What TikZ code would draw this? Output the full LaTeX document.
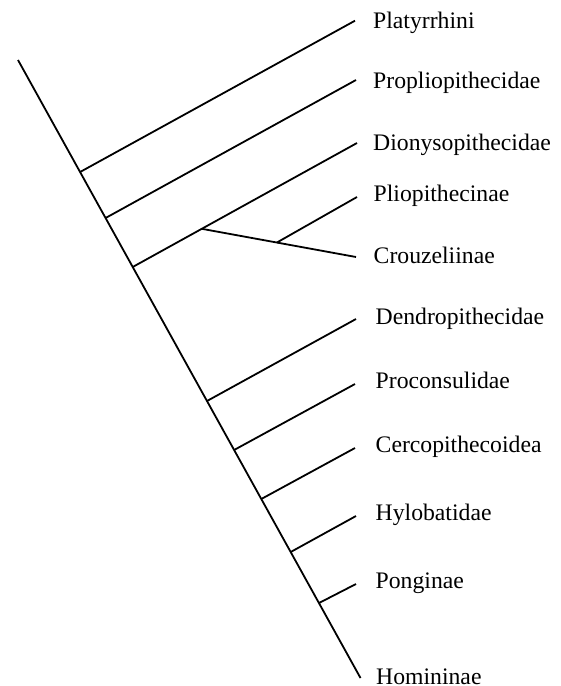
\documentclass[tikz,border=0pt]{standalone}
\usepackage{fontspec}
\setmainfont{Liberation Serif}
\usetikzlibrary{calc}
\begin{document}
\begin{tikzpicture}[x=1pt,y=-1pt,
  branch/.style={line width=1.8pt},
  taxon/.style={anchor=base west,inner sep=0pt,font=\fontsize{23.7}{28}\selectfont}]
\useasboundingbox (0,0) rectangle (561,686);
% trunk
\coordinate (top) at (18,60);
\coordinate (bot) at (360.5,678);
% branch points on trunk
\coordinate (n1) at (80.1,172);
\coordinate (n2) at (105.6,218);
\coordinate (n3) at (132.7,267);
\coordinate (n4) at (207,401);
\coordinate (n5) at (234.1,450);
\coordinate (n6) at (261.3,499);
\coordinate (n7) at (290.7,552);
\coordinate (n8) at (319,603);
% tips
\coordinate (t1) at (355,20.7);
\coordinate (t2) at (356,80);
\coordinate (t3) at (357,143);
\coordinate (t4) at (357,197);
\coordinate (t5) at (356,257);
\coordinate (t6) at (356,319);
\coordinate (t7) at (355,384);
\coordinate (t8) at (355,448);
\coordinate (t9) at (356,516);
\coordinate (t10) at (356,584);
% inner nodes of the pliopithecid clade
\coordinate (c) at ($(n3)!0.308!(t3)$);
\coordinate (s) at ($(c)!0.487!(t5)$);
% labels
\node[taxon] (Platy) at (373,28.5) {Platyrrhini};
\node[taxon] (Propl) at (373,88) {Propliopithecidae};
\node[taxon] (Diony) at (373,150) {Dionysopithecidae};
\node[taxon] (Pliop) at (373.5,201.5) {Pliopithecinae};
\node[taxon] (Crouz) at (373.5,263) {Crouzeliinae};
\node[taxon] (Dendr) at (375.5,324) {Dendropithecidae};
\node[taxon] (Procs) at (375.5,388) {Proconsulidae};
\node[taxon] (Cerco) at (375.5,452) {Cercopithecoidea};
\node[taxon] (Hylob) at (375.5,520) {Hylobatidae};
\node[taxon] (Pongi) at (375.5,588.5) {Ponginae};
\node[taxon] (Homin) at (376,684) {Homininae};
% connectors
\draw[branch] (top) -- (bot);
\draw[branch] (n1) -- (t1);
\draw[branch] (n2) -- (t2);
\draw[branch] (n3) -- (t3);
\draw[branch] (c) -- (t5);
\draw[branch] (s) -- (t4);
\draw[branch] (n4) -- (t6);
\draw[branch] (n5) -- (t7);
\draw[branch] (n6) -- (t8);
\draw[branch] (n7) -- (t9);
\draw[branch] (n8) -- (t10);
\end{tikzpicture}
\end{document}
